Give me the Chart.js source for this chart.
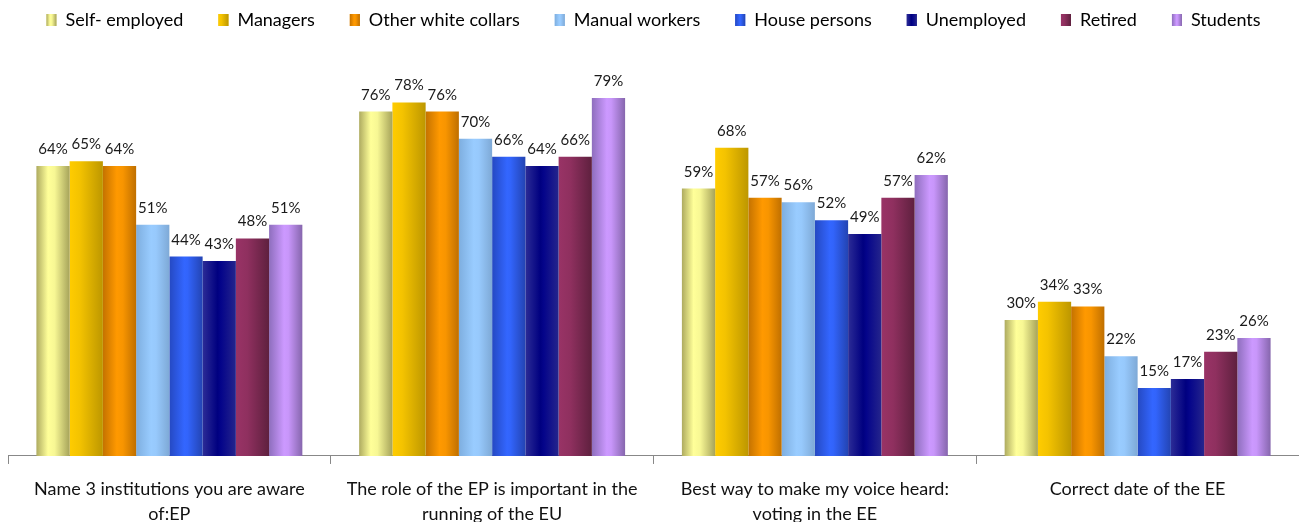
<!DOCTYPE html>
<html>
<head>
<meta charset="utf-8">
<script src="https://cdn.jsdelivr.net/npm/chart.js@4/dist/chart.umd.min.js"></script>
<style>
  html, body { margin: 0; padding: 0; background: #ffffff; }
  #wrap { width: 1299px; height: 522px; position: relative; }
</style>
</head>
<body>
<div id="wrap"><canvas id="c" width="1299" height="522"></canvas></div>
<script>
// ---- data ----
const categories = [
  ['Name 3 institutions you are aware', 'of:EP'],
  ['The role of the EP is important in the', 'running of the EU'],
  ['Best way to make my voice heard:', 'voting in the EE'],
  ['Correct date of the EE']
];
const seriesNames = ['Self- employed', 'Managers', 'Other white collars', 'Manual workers', 'House persons', 'Unemployed', 'Retired', 'Students'];
const selfEmployed   = [64, 76, 59, 30];
const managers       = [65, 78, 68, 34];
const otherWhite     = [64, 76, 57, 33];
const manualWorkers  = [51, 70, 56, 22];
const housePersons   = [44, 66, 52, 15];
const unemployed     = [43, 64, 49, 17];
const retired        = [48, 66, 57, 23];
const students       = [51, 79, 62, 26];
const seriesValues = [selfEmployed, managers, otherWhite, manualWorkers, housePersons, unemployed, retired, students];

// ---- styles ----
const gradStops = [
  [[0, '#aeab60'], [0.35, '#ffff99'], [0.55, '#f7f794'], [1, '#a6a35a']],
  [[0, '#ffcc00'], [0.3, '#f4c300'], [1, '#bd9700']],
  [[0, '#c47200'], [0.42, '#ff9900'], [0.6, '#f89500'], [1, '#bf6f00']],
  [[0, '#7eaedf'], [0.45, '#99ccff'], [0.6, '#97c9fc'], [1, '#7ea9d6']],
  [[0, '#2549c2'], [0.45, '#3366ff'], [0.55, '#3264fb'], [1, '#2344b3']],
  [[0, '#2c2c96'], [0.45, '#000080'], [0.55, '#04048a'], [1, '#25258c']],
  [[0, '#993366'], [0.35, '#8f305f'], [1, '#5e203e']],
  [[0, '#8e6ebd'], [0.45, '#cc99ff'], [0.58, '#c896fa'], [1, '#8666ad']]
];
const midColors = ['#eeee90', '#e0b400', '#f08c00', '#90c0f0', '#3060f0', '#101088', '#802a55', '#b890e8'];
const CAT_PCT = 0.824;
const FONT = 'Lato';

function makeGrad(ctx, x0, x1, stops) {
  const g = ctx.createLinearGradient(x0, 0, x1, 0);
  stops.forEach(s => g.addColorStop(s[0], s[1]));
  return g;
}

const datasets = seriesValues.map((vals, i) => ({
  label: seriesNames[i],
  data: vals,
  borderWidth: 0,
  categoryPercentage: CAT_PCT,
  barPercentage: 1,
  backgroundColor: (c) => {
    const chart = c.chart;
    const xs = chart.scales && chart.scales.x;
    if (!xs || c.type !== 'data' || !isFinite(xs.left)) return midColors[c.datasetIndex];
    const catW = (xs.right - xs.left) / categories.length;
    const bw = catW * CAT_PCT / seriesValues.length;
    const center = xs.getPixelForValue(c.dataIndex) + (c.datasetIndex - (seriesValues.length - 1) / 2) * bw;
    return makeGrad(chart.ctx, center - bw / 2, center + bw / 2, gradStops[c.datasetIndex]);
  }
}));

const LEG_FONT = 18, BOX_W = 10, BOX_H = 12, LEG_PAD = 35;

const valueLabels = {
  id: 'valueLabels',
  afterDatasetsDraw(chart) {
    const ctx = chart.ctx;
    ctx.save();
    ctx.font = '15px ' + FONT;
    ctx.fillStyle = '#1a1a1a';
    ctx.textAlign = 'center';
    ctx.textBaseline = 'alphabetic';
    chart.data.datasets.forEach((ds, di) => {
      const meta = chart.getDatasetMeta(di);
      meta.data.forEach((el, i) => {
        ctx.fillText(ds.data[i] + '%', el.x, el.y - 12);
      });
    });
    ctx.restore();
  }
};

const legendGrad = {
  id: 'legendGrad',
  afterDraw(chart) {
    const lg = chart.legend;
    if (!lg || !lg.legendHitBoxes) return;
    const ctx = chart.ctx;
    ctx.save();
    lg.legendHitBoxes.forEach((hb, i) => {
      const y = hb.top + Math.max((LEG_FONT - BOX_H) / 2, 0);
      ctx.fillStyle = makeGrad(ctx, hb.left, hb.left + BOX_W, gradStops[i]);
      ctx.fillRect(hb.left, y, BOX_W, BOX_H);
    });
    ctx.restore();
  }
};

new Chart(document.getElementById('c'), {
  type: 'bar',
  data: { labels: categories, datasets },
  options: {
    responsive: false,
    animation: false,
    events: [],
    layout: { padding: { left: 8, right: 0, top: -24, bottom: -18 } },
    plugins: {
      tooltip: { enabled: false },
      legend: {
        position: 'top',
        labels: {
          boxWidth: BOX_W,
          boxHeight: BOX_H,
          padding: LEG_PAD,
          color: '#111111',
          font: { family: FONT, size: LEG_FONT },
          generateLabels: (chart) => chart.data.datasets.map((ds, i) => ({
            text: ds.label,
            fillStyle: midColors[i],
            strokeStyle: midColors[i],
            lineWidth: 0,
            hidden: false,
            datasetIndex: i
          }))
        }
      }
    },
    scales: {
      x: {
        grid: { offset: true, drawOnChartArea: false, drawTicks: true, tickLength: 8, color: '#888888' },
        border: { color: '#888888', width: 1 },
        ticks: {
          color: '#111111',
          padding: 13,
          maxRotation: 0,
          autoSkip: false,
          font: { family: FONT, size: 18, lineHeight: 1.39 }
        }
      },
      y: {
        display: false,
        min: 0,
        max: 92
      }
    }
  },
  plugins: [valueLabels, legendGrad]
});
</script>
</body>
</html>
